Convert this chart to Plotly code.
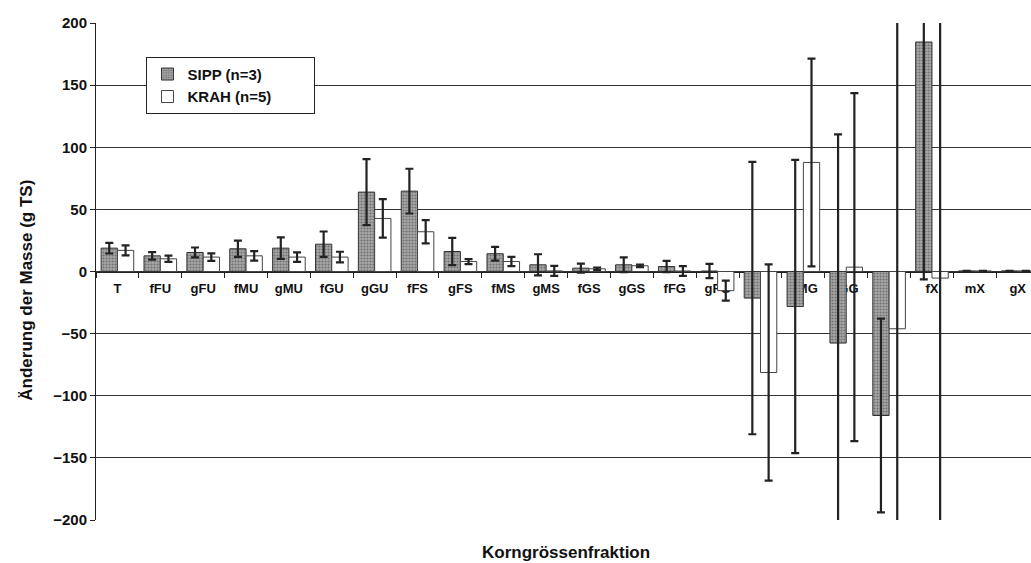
import plotly.graph_objects as go

categories = ["T", "fFU", "gFU", "fMU", "gMU", "fGU", "gGU", "fFS", "gFS", "fMS", "gMS",
              "fGS", "gGS", "fFG", "gFG", "fMG", "gMG", "fGG", "gGG", "fX", "mX", "gX"]
sipp = [18.8, 12.6, 15.3, 18.3, 18.8, 22.0, 63.9, 64.7, 16.1, 14.3, 5.4,
        2.7, 5.4, 4.0, 0.4, -21.4, -28.2, -57.6, -115.9, 184.7, 0.5, 0.5]
sipp_err = [4.3, 3.0, 4.0, 6.5, 8.6, 10.2, 26.5, 18.0, 11.0, 5.5, 8.5,
            3.7, 6.0, 4.5, 5.8, 109.6, 118.0, 168.0, 78.0, 191.0, 0, 0]
krah = [17.0, 10.2, 11.6, 12.6, 11.6, 11.6, 42.7, 32.0, 8.0, 8.0, 0.5,
        2.2, 4.6, 0.4, -15.4, -81.3, 87.8, 3.5, -46.1, -5.3, 0.5, 0.5]
krah_err = [4.0, 2.5, 3.0, 3.8, 3.8, 4.3, 15.5, 9.3, 2.0, 3.7, 4.0,
            1.0, 1.0, 3.9, 8.0, 87.0, 83.6, 140.0, 260.0, 230.0, 0, 0]
y_ticks = [-200, -150, -100, -50, 0, 50, 100, 150, 200]

FONT = "Liberation Sans, Arial, sans-serif"
PAD = "\u00a0" * 9

fig = go.Figure()
fig.add_trace(go.Bar(
    x=categories, y=sipp, name="SIPP (n=3)" + PAD,
    marker=dict(color="#a0a0a0", line=dict(color="#333333", width=1),
                pattern=dict(shape=".", fgcolor="#3a3a3a", bgcolor="#a8a8a8", size=3, solidity=0.4)),
    error_y=dict(type="data", array=sipp_err, visible=True, color="#222222", thickness=2.2, width=4),
))
fig.add_trace(go.Bar(
    x=categories, y=krah, name="KRAH (n=5)" + PAD,
    marker=dict(color="white", line=dict(color="#444444", width=1)),
    error_y=dict(type="data", array=krah_err, visible=True, color="#222222", thickness=2.2, width=4),
))

fig.update_layout(
    width=1031, height=563,
    margin=dict(l=96, r=0, t=23, b=43),
    paper_bgcolor="white", plot_bgcolor="white",
    barmode="group", bargap=0.24, bargroupgap=0,
    font=dict(family=FONT, color="#111111", weight="bold"),
    showlegend=True,
    legend=dict(x=0.054, y=0.932, xanchor="left", yanchor="top",
                bgcolor="white", bordercolor="#222222", borderwidth=1,
                font=dict(size=15, family=FONT, weight="bold"),
                tracegroupgap=4),
    xaxis=dict(type="category", range=[-0.5, 21.31], anchor="free", position=0.5,
               showline=True, linecolor="#222222", linewidth=1,
               ticks="outside", tickson="boundaries", ticklen=5, tickcolor="#222222",
               ticklabelstandoff=5,
               tickfont=dict(size=13, family=FONT, weight="bold"),
               showgrid=False, layer="below traces", fixedrange=True),
    yaxis=dict(range=[-200, 200], tickvals=y_ticks, showline=True, linecolor="#222222", linewidth=1,
               ticks="outside", ticklen=5, tickcolor="#222222",
               showgrid=True, gridcolor="#333333", gridwidth=1, zeroline=False,
               tickfont=dict(size=15, family=FONT, weight="bold")),
    annotations=[
        dict(text="Korngrössenfraktion", xref="paper", yref="paper", x=0.503, y=-0.066,
             showarrow=False, font=dict(size=17, family=FONT, weight="bold"),
             xanchor="center", yanchor="middle"),
        dict(text="Änderung der Masse (g TS)", xref="paper", yref="paper", x=-0.074, y=0.463,
             showarrow=False, textangle=-90, font=dict(size=17, family=FONT, weight="bold"),
             xanchor="center", yanchor="middle"),
    ],
)

fig.write_html("out.html", config={"displayModeBar": False},
               post_script="document.body.style.margin='0px';document.body.style.overflow='hidden';")
